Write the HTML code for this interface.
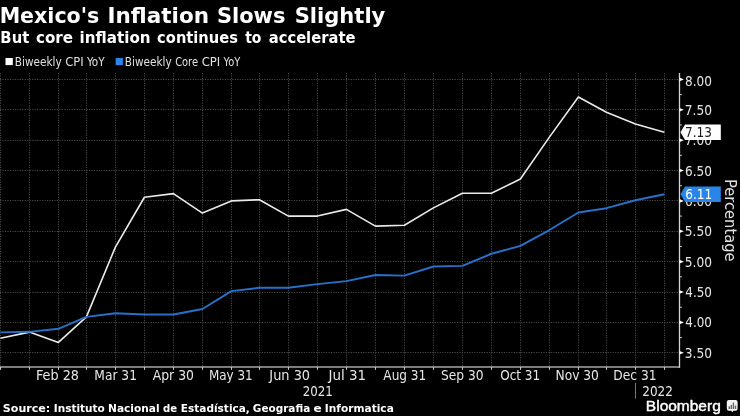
<!DOCTYPE html>
<html lang="en"><head><meta charset="utf-8"><title>Mexico's Inflation Slows Slightly</title>
<style>
html,body{margin:0;padding:0;background:#000;}
body{width:740px;height:416px;overflow:hidden;position:relative;}
svg{position:absolute;left:0;top:0;display:block;}
text{font-family:'DejaVu Sans','Liberation Sans',sans-serif;white-space:pre;}
.c{font-family:'DejaVu Sans Condensed','DejaVu Sans','Liberation Sans',sans-serif;}
.g{stroke:#484848;stroke-width:1;stroke-dasharray:1.2 1.27;fill:none;}
</style></head><body>
<svg width="740" height="416" viewBox="0 0 740 416">
<rect width="740" height="416" fill="#000"/>

<text y="22.65" font-size="21" font-weight="bold" fill="#fff"><tspan x="-0.36" textLength="99.68" lengthAdjust="spacingAndGlyphs">Mexico&#x27;s</tspan> <tspan x="107.55" textLength="101.40" lengthAdjust="spacingAndGlyphs">Inflation</tspan> <tspan x="216.90" textLength="68.60" lengthAdjust="spacingAndGlyphs">Slows</tspan> <tspan x="294.70" textLength="90.63" lengthAdjust="spacingAndGlyphs">Slightly</tspan></text>
<text y="42.75" font-size="15" font-weight="bold" fill="#fff"><tspan x="0.37" textLength="28.92" lengthAdjust="spacingAndGlyphs">But</tspan> <tspan x="36.00" textLength="37.08" lengthAdjust="spacingAndGlyphs">core</tspan> <tspan x="79.54" textLength="71.08" lengthAdjust="spacingAndGlyphs">inflation</tspan> <tspan x="157.11" textLength="80.82" lengthAdjust="spacingAndGlyphs">continues</tspan> <tspan x="245.17" textLength="16.28" lengthAdjust="spacingAndGlyphs">to</tspan> <tspan x="268.71" textLength="86.74" lengthAdjust="spacingAndGlyphs">accelerate</tspan></text>
<rect x="5.5" y="58" width="7.3" height="7.1" fill="#fff"/>
<text y="65.6" font-size="12" fill="#e2e2e2" class="c"><tspan x="14.83" textLength="46.77" lengthAdjust="spacingAndGlyphs">Biweekly</tspan> <tspan x="65.27" textLength="18.38" lengthAdjust="spacingAndGlyphs">CPI</tspan> <tspan x="87.00" textLength="17.55" lengthAdjust="spacingAndGlyphs">YoY</tspan></text>
<rect x="115.6" y="58" width="7.3" height="7.1" fill="#2a85e8"/>
<text y="65.6" font-size="12" fill="#e2e2e2" class="c"><tspan x="124.83" textLength="46.77" lengthAdjust="spacingAndGlyphs">Biweekly</tspan> <tspan x="175.14" textLength="22.88" lengthAdjust="spacingAndGlyphs">Core</tspan> <tspan x="201.66" textLength="18.60" lengthAdjust="spacingAndGlyphs">CPI</tspan> <tspan x="223.60" textLength="16.65" lengthAdjust="spacingAndGlyphs">YoY</tspan></text>
<g class="g">
<line x1="0.5" y1="73" x2="0.5" y2="366.5"/>
<line x1="29.5" y1="73" x2="29.5" y2="366.5"/>
<line x1="58.5" y1="73" x2="58.5" y2="366.5"/>
<line x1="86.5" y1="73" x2="86.5" y2="366.5"/>
<line x1="115.5" y1="73" x2="115.5" y2="366.5"/>
<line x1="144.5" y1="73" x2="144.5" y2="366.5"/>
<line x1="173.5" y1="73" x2="173.5" y2="366.5"/>
<line x1="202.5" y1="73" x2="202.5" y2="366.5"/>
<line x1="231.5" y1="73" x2="231.5" y2="366.5"/>
<line x1="259.5" y1="73" x2="259.5" y2="366.5"/>
<line x1="288.5" y1="73" x2="288.5" y2="366.5"/>
<line x1="317.5" y1="73" x2="317.5" y2="366.5"/>
<line x1="346.5" y1="73" x2="346.5" y2="366.5"/>
<line x1="375.5" y1="73" x2="375.5" y2="366.5"/>
<line x1="404.5" y1="73" x2="404.5" y2="366.5"/>
<line x1="433.5" y1="73" x2="433.5" y2="366.5"/>
<line x1="462.5" y1="73" x2="462.5" y2="366.5"/>
<line x1="491.5" y1="73" x2="491.5" y2="366.5"/>
<line x1="520.5" y1="73" x2="520.5" y2="366.5"/>
<line x1="549.5" y1="73" x2="549.5" y2="366.5"/>
<line x1="578.5" y1="73" x2="578.5" y2="366.5"/>
<line x1="606.5" y1="73" x2="606.5" y2="366.5"/>
<line x1="635.5" y1="73" x2="635.5" y2="366.5"/>
<line x1="664.5" y1="73" x2="664.5" y2="366.5"/>
<line x1="0" y1="79.5" x2="679.5" y2="79.5"/>
<line x1="0" y1="109.5" x2="679.5" y2="109.5"/>
<line x1="0" y1="140.5" x2="679.5" y2="140.5"/>
<line x1="0" y1="170.5" x2="679.5" y2="170.5"/>
<line x1="0" y1="200.5" x2="679.5" y2="200.5"/>
<line x1="0" y1="231.5" x2="679.5" y2="231.5"/>
<line x1="0" y1="261.5" x2="679.5" y2="261.5"/>
<line x1="0" y1="292.5" x2="679.5" y2="292.5"/>
<line x1="0" y1="322.5" x2="679.5" y2="322.5"/>
<line x1="0" y1="352.5" x2="679.5" y2="352.5"/>
</g>
<line x1="0" y1="366.9" x2="680.1" y2="366.9" stroke="#7c7c7c" stroke-width="2"/>
<line x1="679.5" y1="73" x2="679.5" y2="367.7" stroke="#d4d4d4" stroke-width="1.3"/>
<line x1="0.5" y1="367" x2="0.5" y2="369.8" stroke="#c8c8c8" stroke-width="1"/>
<line x1="29.5" y1="367" x2="29.5" y2="369.8" stroke="#c8c8c8" stroke-width="1"/>
<line x1="58.5" y1="367" x2="58.5" y2="369.8" stroke="#c8c8c8" stroke-width="1"/>
<line x1="86.5" y1="367" x2="86.5" y2="369.8" stroke="#c8c8c8" stroke-width="1"/>
<line x1="115.5" y1="367" x2="115.5" y2="369.8" stroke="#c8c8c8" stroke-width="1"/>
<line x1="144.5" y1="367" x2="144.5" y2="369.8" stroke="#c8c8c8" stroke-width="1"/>
<line x1="173.5" y1="367" x2="173.5" y2="369.8" stroke="#c8c8c8" stroke-width="1"/>
<line x1="202.5" y1="367" x2="202.5" y2="369.8" stroke="#c8c8c8" stroke-width="1"/>
<line x1="231.5" y1="367" x2="231.5" y2="369.8" stroke="#c8c8c8" stroke-width="1"/>
<line x1="259.5" y1="367" x2="259.5" y2="369.8" stroke="#c8c8c8" stroke-width="1"/>
<line x1="288.5" y1="367" x2="288.5" y2="369.8" stroke="#c8c8c8" stroke-width="1"/>
<line x1="317.5" y1="367" x2="317.5" y2="369.8" stroke="#c8c8c8" stroke-width="1"/>
<line x1="346.5" y1="367" x2="346.5" y2="369.8" stroke="#c8c8c8" stroke-width="1"/>
<line x1="375.5" y1="367" x2="375.5" y2="369.8" stroke="#c8c8c8" stroke-width="1"/>
<line x1="404.5" y1="367" x2="404.5" y2="369.8" stroke="#c8c8c8" stroke-width="1"/>
<line x1="433.5" y1="367" x2="433.5" y2="369.8" stroke="#c8c8c8" stroke-width="1"/>
<line x1="462.5" y1="367" x2="462.5" y2="369.8" stroke="#c8c8c8" stroke-width="1"/>
<line x1="491.5" y1="367" x2="491.5" y2="369.8" stroke="#c8c8c8" stroke-width="1"/>
<line x1="520.5" y1="367" x2="520.5" y2="369.8" stroke="#c8c8c8" stroke-width="1"/>
<line x1="549.5" y1="367" x2="549.5" y2="369.8" stroke="#c8c8c8" stroke-width="1"/>
<line x1="578.5" y1="367" x2="578.5" y2="369.8" stroke="#c8c8c8" stroke-width="1"/>
<line x1="606.5" y1="367" x2="606.5" y2="369.8" stroke="#c8c8c8" stroke-width="1"/>
<line x1="635.5" y1="367" x2="635.5" y2="369.8" stroke="#c8c8c8" stroke-width="1"/>
<line x1="664.5" y1="367" x2="664.5" y2="369.8" stroke="#c8c8c8" stroke-width="1"/>
<path d="M679.5 77.60L683.9 79.40L679.5 81.20Z" fill="#fff"/>
<text y="85.9" font-size="13.8" fill="#e6e6e6" class="c"><tspan x="685.07" textLength="26.89" lengthAdjust="spacingAndGlyphs">8.00</tspan></text>
<path d="M679.5 107.98L683.9 109.78L679.5 111.58Z" fill="#fff"/>
<text y="114.78" font-size="13.8" fill="#e6e6e6" class="c"><tspan x="684.82" textLength="27.15" lengthAdjust="spacingAndGlyphs">7.50</tspan></text>
<line x1="679.5" y1="94.59" x2="681.9" y2="94.59" stroke="#ccc" stroke-width="1"/>
<path d="M679.5 138.35L683.9 140.15L679.5 141.95Z" fill="#fff"/>
<text y="145.15" font-size="13.8" fill="#e6e6e6" class="c"><tspan x="684.82" textLength="27.15" lengthAdjust="spacingAndGlyphs">7.00</tspan></text>
<line x1="679.5" y1="124.96" x2="681.9" y2="124.96" stroke="#ccc" stroke-width="1"/>
<path d="M679.5 168.72L683.9 170.53L679.5 172.33Z" fill="#fff"/>
<text y="175.53" font-size="13.8" fill="#e6e6e6" class="c"><tspan x="685.07" textLength="26.89" lengthAdjust="spacingAndGlyphs">6.50</tspan></text>
<line x1="679.5" y1="155.34" x2="681.9" y2="155.34" stroke="#ccc" stroke-width="1"/>
<path d="M679.5 199.10L683.9 200.90L679.5 202.70Z" fill="#fff"/>
<text y="205.9" font-size="13.8" fill="#e6e6e6" class="c"><tspan x="685.07" textLength="26.89" lengthAdjust="spacingAndGlyphs">6.00</tspan></text>
<line x1="679.5" y1="185.71" x2="681.9" y2="185.71" stroke="#ccc" stroke-width="1"/>
<path d="M679.5 229.47L683.9 231.28L679.5 233.08Z" fill="#fff"/>
<text y="236.28" font-size="13.8" fill="#e6e6e6" class="c"><tspan x="684.82" textLength="27.15" lengthAdjust="spacingAndGlyphs">5.50</tspan></text>
<line x1="679.5" y1="216.09" x2="681.9" y2="216.09" stroke="#ccc" stroke-width="1"/>
<path d="M679.5 259.85L683.9 261.65L679.5 263.45Z" fill="#fff"/>
<text y="266.65" font-size="13.8" fill="#e6e6e6" class="c"><tspan x="684.82" textLength="27.15" lengthAdjust="spacingAndGlyphs">5.00</tspan></text>
<line x1="679.5" y1="246.46" x2="681.9" y2="246.46" stroke="#ccc" stroke-width="1"/>
<path d="M679.5 290.22L683.9 292.02L679.5 293.82Z" fill="#fff"/>
<text y="297.02" font-size="13.8" fill="#e6e6e6" class="c"><tspan x="685.32" textLength="26.63" lengthAdjust="spacingAndGlyphs">4.50</tspan></text>
<line x1="679.5" y1="276.84" x2="681.9" y2="276.84" stroke="#ccc" stroke-width="1"/>
<path d="M679.5 320.60L683.9 322.40L679.5 324.20Z" fill="#fff"/>
<text y="327.4" font-size="13.8" fill="#e6e6e6" class="c"><tspan x="685.32" textLength="26.63" lengthAdjust="spacingAndGlyphs">4.00</tspan></text>
<line x1="679.5" y1="307.21" x2="681.9" y2="307.21" stroke="#ccc" stroke-width="1"/>
<path d="M679.5 350.97L683.9 352.77L679.5 354.57Z" fill="#fff"/>
<text y="357.77" font-size="13.8" fill="#e6e6e6" class="c"><tspan x="684.82" textLength="27.15" lengthAdjust="spacingAndGlyphs">3.50</tspan></text>
<line x1="679.5" y1="337.59" x2="681.9" y2="337.59" stroke="#ccc" stroke-width="1"/>
<polyline points="0.40,338.19 29.40,332.12 58.40,342.45 86.40,316.93 115.40,247.07 144.40,197.26 173.40,193.61 202.40,213.05 231.40,200.90 259.40,199.69 288.40,216.09 317.40,216.09 346.40,209.40 375.40,226.11 404.40,225.20 433.40,207.89 462.40,193.31 491.40,193.31 520.40,179.03 549.40,137.11 578.40,97.02 606.40,112.21 635.40,124.05 664.40,132.25" fill="none" stroke="#eaeaea" stroke-width="1.6" stroke-linejoin="round"/>
<polyline points="0.40,332.42 29.40,331.82 58.40,328.78 86.40,316.93 115.40,313.29 144.40,314.50 173.40,314.50 202.40,309.04 231.40,291.11 259.40,287.77 288.40,287.77 317.40,284.13 346.40,281.09 375.40,275.01 404.40,275.62 433.40,266.51 462.40,265.90 491.40,253.75 520.40,245.86 549.40,230.06 578.40,212.44 606.40,208.19 635.40,200.29 664.40,194.22" fill="none" stroke="#2871ca" stroke-width="1.9" stroke-linejoin="round"/>
<path d="M680.5 132.25L685 124.45H720.8V140.05H685Z" fill="#fff"/><text y="137.25" font-size="13.8" fill="#1c1c1c" class="c"><tspan x="685.03" textLength="26.93" lengthAdjust="spacingAndGlyphs">7.13</tspan></text>
<path d="M680.5 194.22L685 186.42H720.8V202.02H685Z" fill="#2a85e8"/><text y="199.22" font-size="13.8" fill="#fff" class="c"><tspan x="685.27" textLength="26.93" lengthAdjust="spacingAndGlyphs">6.11</tspan></text>
<g transform="translate(724.9 0) rotate(90)"><text y="0" font-size="16" fill="#e0e0e0" class="c"><tspan x="178.92" textLength="82.63" lengthAdjust="spacingAndGlyphs">Percentage</tspan></text></g>
<text y="380.1" font-size="13.8" fill="#e6e6e6" class="c"><tspan x="36.01" textLength="42.91" lengthAdjust="spacingAndGlyphs">Feb 28</tspan></text>
<text y="380.1" font-size="13.8" fill="#e6e6e6" class="c"><tspan x="94.37" textLength="42.57" lengthAdjust="spacingAndGlyphs">Mar 31</tspan></text>
<text y="380.1" font-size="13.8" fill="#e6e6e6" class="c"><tspan x="152.75" textLength="41.15" lengthAdjust="spacingAndGlyphs">Apr 30</tspan></text>
<text y="380.1" font-size="13.8" fill="#e6e6e6" class="c"><tspan x="208.89" textLength="43.81" lengthAdjust="spacingAndGlyphs">May 31</tspan></text>
<text y="380.1" font-size="13.8" fill="#e6e6e6" class="c"><tspan x="269.38" textLength="40.73" lengthAdjust="spacingAndGlyphs">Jun 30</tspan></text>
<text y="380.1" font-size="13.8" fill="#e6e6e6" class="c"><tspan x="328.51" textLength="37.70" lengthAdjust="spacingAndGlyphs">Jul 31</tspan></text>
<text y="380.1" font-size="13.8" fill="#e6e6e6" class="c"><tspan x="383.36" textLength="42.94" lengthAdjust="spacingAndGlyphs">Aug 31</tspan></text>
<text y="380.1" font-size="13.8" fill="#e6e6e6" class="c"><tspan x="440.96" textLength="42.51" lengthAdjust="spacingAndGlyphs">Sep 30</tspan></text>
<text y="380.1" font-size="13.8" fill="#e6e6e6" class="c"><tspan x="500.17" textLength="40.09" lengthAdjust="spacingAndGlyphs">Oct 31</tspan></text>
<text y="380.1" font-size="13.8" fill="#e6e6e6" class="c"><tspan x="555.46" textLength="43.43" lengthAdjust="spacingAndGlyphs">Nov 30</tspan></text>
<text y="380.1" font-size="13.8" fill="#e6e6e6" class="c"><tspan x="613.37" textLength="43.23" lengthAdjust="spacingAndGlyphs">Dec 31</tspan></text>
<text y="395.8" font-size="13.8" fill="#e6e6e6" class="c"><tspan x="302.78" textLength="30.15" lengthAdjust="spacingAndGlyphs">2021</tspan></text>
<text y="395.8" font-size="13.8" fill="#e6e6e6" class="c"><tspan x="642.27" textLength="30.68" lengthAdjust="spacingAndGlyphs">2022</tspan></text>
<line x1="635.5" y1="383" x2="635.5" y2="398.6" stroke="#777" stroke-width="1"/>
<text y="411.9" font-size="10.8" font-weight="bold" fill="#fff"><tspan x="2.83" textLength="47.34" lengthAdjust="spacingAndGlyphs">Source:</tspan> <tspan x="53.73" textLength="51.09" lengthAdjust="spacingAndGlyphs">Instituto</tspan> <tspan x="108.12" textLength="51.43" lengthAdjust="spacingAndGlyphs">Nacional</tspan> <tspan x="163.03" textLength="14.09" lengthAdjust="spacingAndGlyphs">de</tspan> <tspan x="180.82" textLength="69.06" lengthAdjust="spacingAndGlyphs">Estadística,</tspan> <tspan x="252.82" textLength="57.39" lengthAdjust="spacingAndGlyphs">Geografia</tspan> <tspan x="313.64" textLength="8.20" lengthAdjust="spacingAndGlyphs">e</tspan> <tspan x="324.82" textLength="69.00" lengthAdjust="spacingAndGlyphs">Informatica</tspan></text>
<text y="410.7" font-size="14.4" fill="#fff" style="font-family:'Liberation Sans',sans-serif" stroke="#fff" stroke-width="0.4" stroke-linejoin="round"><tspan x="645.86" textLength="74.89" lengthAdjust="spacingAndGlyphs">Bloomberg</tspan></text>
<g>
<path d="M728.8 400h6.8a2 2 0 0 1 2 2v6.8a2 2 0 0 1-2 2h-2.2l-1.1 1.5-1.1-1.5h-2.4a2 2 0 0 1-2-2v-6.8a2 2 0 0 1 2-2z" fill="#f4f4f4"/>
<rect x="728.5" y="406.3" width="1.4" height="2.7" fill="#666"/>
<rect x="730.6" y="404.9" width="1.4" height="4.1" fill="#666"/>
<rect x="732.7" y="402.6" width="1.4" height="6.4" fill="#666"/>
<rect x="734.8" y="405.6" width="1.4" height="3.4" fill="#666"/>
</g>
</svg>
</body></html>
